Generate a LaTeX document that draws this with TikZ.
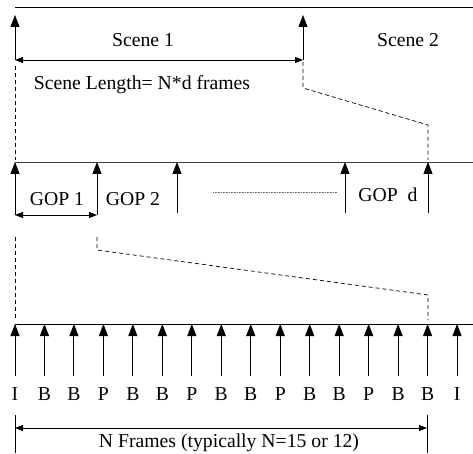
\documentclass[tikz,border=0pt]{standalone}
\usepackage{fontspec}
\setmainfont{Liberation Serif}
\usetikzlibrary{arrows.meta}
\begin{document}
\begin{tikzpicture}[x=1pt,y=-1pt,
  bigarrow/.style={line width=0.9pt,-{Triangle[width=9pt,length=12pt]}},
  dimarrow/.style={line width=0.9pt,{Triangle[width=6pt,length=8pt]}-{Triangle[width=6pt,length=8pt]}},
  rail/.style={line width=0.9pt},
  guide/.style={line width=0.7pt,dash pattern=on 4pt off 3pt},
  lbl/.style={inner sep=0pt,anchor=base,font=\fontsize{19.7}{21}\selectfont}]
\useasboundingbox (0,0) rectangle (473,454);
% ---------- top: scenes ----------
\coordinate (t0) at (15,7); \coordinate (t1) at (473,7);
\draw[rail] (t0) -- (t1);
\coordinate (sA) at (15,60);  \coordinate (sAt) at (15,15);
\coordinate (sB) at (303,60); \coordinate (sBt) at (303,15);
\draw[bigarrow] (sA) -- (sAt);
\draw[bigarrow] (sB) -- (sBt);
\draw[dimarrow] (sA) -- (sB);
\node[lbl] (scene1) at (143,47) {Scene 1};
\node[lbl] (scene2) at (408,47) {Scene 2};
\node[lbl] (slen) at (142,90) {Scene Length= N*d frames};
% ---------- middle: GOPs ----------
\coordinate (m0) at (15,162); \coordinate (m1) at (473,162);
\draw[rail,black!75] (m0) -- (m1);
\foreach \x/\b/\n in {15/215/g0,97/215/g1,177/213/g2,345/213/g3,428/213/g4}{
  \coordinate (\n) at (\x,\b);
  \coordinate (\n t) at (\x,162);
  \draw[bigarrow] (\n) -- (\n t);
}
\draw[dimarrow] (g0) -- (g1);
\node[lbl] (gop1) at (57,205) {GOP 1};
\node[lbl] (gop2) at (133,205) {GOP 2};
\node[lbl] (gopd) at (388,202) {GOP\ \ d};
\coordinate (dl) at (213,192); \coordinate (dr) at (337,192);
\draw[black!60,line width=0.6pt,densely dotted] (dl) -- (dr);
% dashed guides top -> middle
\coordinate (ga1) at (15,66); \coordinate (ga2) at (15,160);
\draw[guide] (ga1) -- (ga2);
\coordinate (gb1) at (303,62); \coordinate (gb2) at (303,88);
\coordinate (gb3) at (428,125); \coordinate (gb4) at (428,160);
\draw[guide] (gb1) -- (gb2) -- (gb3) -- (gb4);
% ---------- bottom: frames ----------
\coordinate (b0) at (15,324); \coordinate (b1) at (473,324);
\draw[rail] (b0) -- (b1);
\foreach \t [count=\i from 0] in {I,B,B,P,B,B,P,B,B,P,B,B,P,B,B,I}{
  \pgfmathsetmacro{\xx}{15+29.47*\i}
  \coordinate (f\i) at (\xx,376);
  \coordinate (f\i t) at (\xx,324);
  \draw[bigarrow] (f\i) -- (f\i t);
  \node[lbl] (lab\i) at (\xx,400) {\t};
}
% dashed guides middle -> bottom
\coordinate (gc1) at (15,237); \coordinate (gc2) at (15,320);
\draw[guide] (gc1) -- (gc2);
\coordinate (gd1) at (97,237); \coordinate (gd2) at (97,250);
\coordinate (gd3) at (428,295); \coordinate (gd4) at (428,320);
\draw[guide] (gd1) -- (gd2) -- (gd3) -- (gd4);
% N frames dimension
\coordinate (n0a) at (15,415); \coordinate (n0b) at (15,453);
\coordinate (n1a) at (427,415); \coordinate (n1b) at (427,453);
\draw[rail] (n0a) -- (n0b);
\draw[rail] (n1a) -- (n1b);
\coordinate (na) at (15,428); \coordinate (nb) at (427,428);
\draw[dimarrow] (na) -- (nb);
\node[lbl] (nfr) at (229,447) {N Frames (typically N=15 or 12)};
\end{tikzpicture}
\end{document}
